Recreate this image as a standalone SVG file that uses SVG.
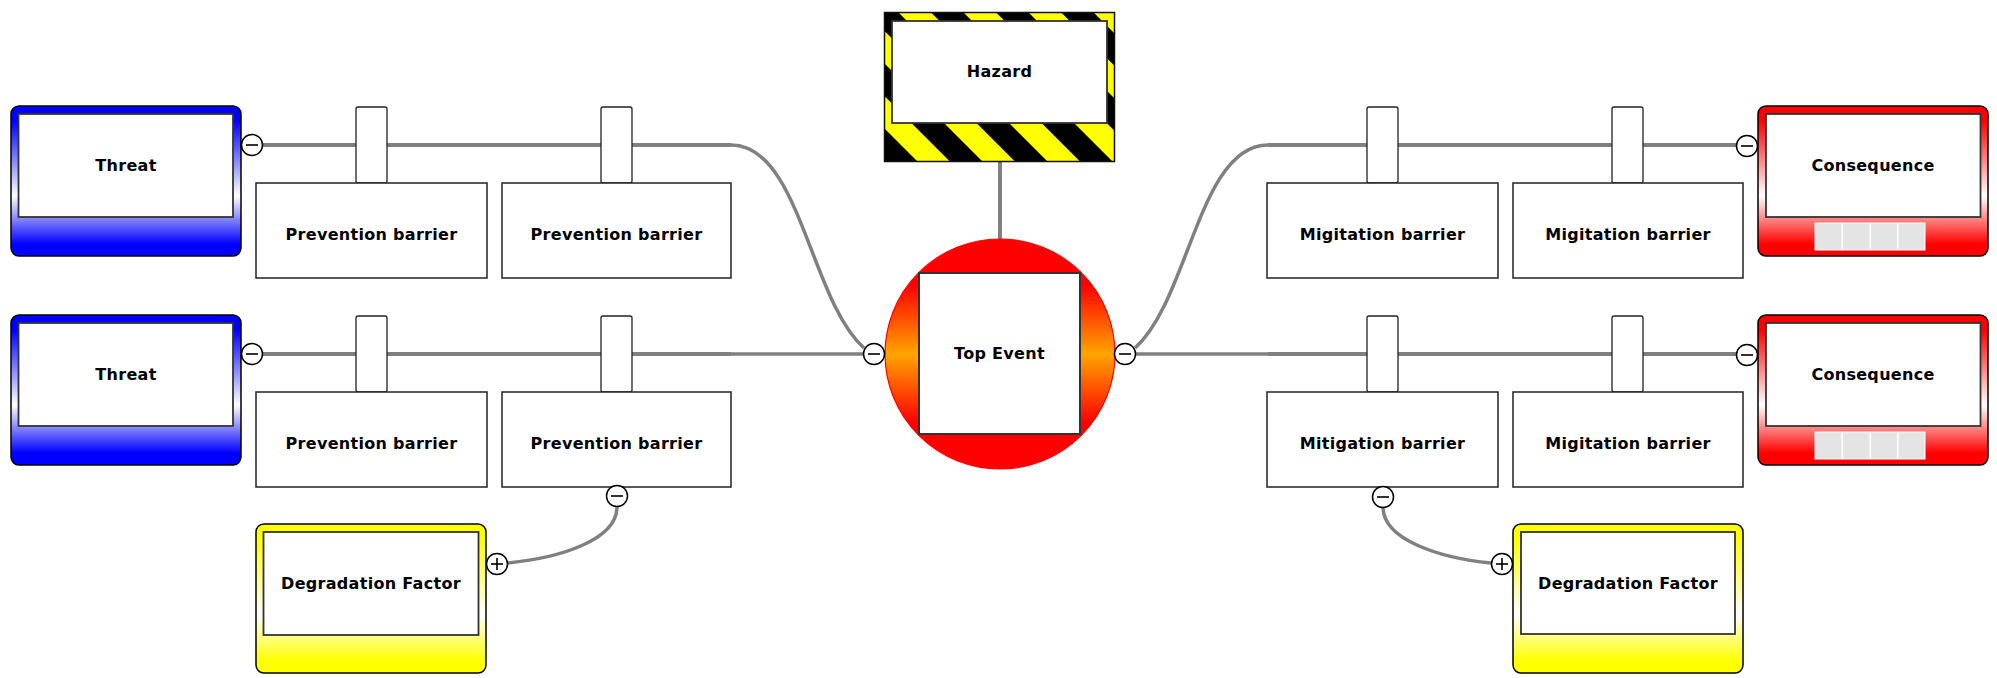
<svg xmlns="http://www.w3.org/2000/svg" xmlns:xlink="http://www.w3.org/1999/xlink" width="1997" height="678" viewBox="0 0 1997 678">
<style>
.lbl{font-family:"DejaVu Sans","Verdana",sans-serif;font-weight:bold;font-size:16px;fill:#000;text-anchor:middle;letter-spacing:0.3px}
.conn{fill:none;stroke:#808080;stroke-width:4}
.connt{fill:none;stroke:#808080;stroke-width:3.5}
.outer{stroke:#000;stroke-width:1.5}
.inner{fill:#fff;stroke:#333;stroke-width:1.8}
.box{fill:#fff;stroke:#222;stroke-width:1.5}
.tab{fill:#fff;stroke:#222;stroke-width:1.3}
.port{fill:#fff;stroke:#000;stroke-width:1.5}
.sign{stroke:#000;stroke-width:1.6;fill:none}
.sq{fill:#e4e4e4;stroke:#fff;stroke-width:1}
</style>
<defs>
<linearGradient id="gBlue" x1="0" y1="0" x2="0" y2="1">
<stop offset="0" stop-color="#0000ff"/><stop offset="0.1" stop-color="#0000ff"/><stop offset="0.6" stop-color="#ffffff"/><stop offset="0.92" stop-color="#0000ff"/><stop offset="1" stop-color="#0000ff"/>
</linearGradient>
<linearGradient id="gRed" x1="0" y1="0" x2="0" y2="1">
<stop offset="0" stop-color="#ff0000"/><stop offset="0.1" stop-color="#ff0000"/><stop offset="0.6" stop-color="#ffffff"/><stop offset="0.92" stop-color="#ff0000"/><stop offset="1" stop-color="#ff0000"/>
</linearGradient>
<linearGradient id="gYel" x1="0" y1="0" x2="0" y2="1">
<stop offset="0" stop-color="#ffff00"/><stop offset="0.1" stop-color="#ffff00"/><stop offset="0.6" stop-color="#ffffff"/><stop offset="0.92" stop-color="#ffff00"/><stop offset="1" stop-color="#ffff00"/>
</linearGradient>
<linearGradient id="gTop" x1="0" y1="0" x2="0" y2="1">
<stop offset="0" stop-color="#ff0000"/><stop offset="0.2" stop-color="#ff0000"/><stop offset="0.5" stop-color="#ffa500"/><stop offset="0.8" stop-color="#ff0000"/><stop offset="1" stop-color="#ff0000"/>
</linearGradient>
<pattern id="stripes" patternUnits="userSpaceOnUse" x="28.5" y="0" width="46" height="46" patternTransform="rotate(-45)">
<rect x="0" y="0" width="46" height="46" fill="#000"/>
<rect x="0" y="0" width="23" height="46" fill="#ffff00"/>
</pattern>
<g id="minus"><circle r="10.5" class="port"/><line x1="-6" y1="0" x2="6" y2="0" class="sign"/></g>
<g id="plus"><circle r="10.5" class="port"/><line x1="-6" y1="0" x2="6" y2="0" class="sign"/><line x1="0" y1="-6" x2="0" y2="6" class="sign"/></g>
</defs>
<rect width="1997" height="678" fill="#fff"/>

<g id="connectors">
<line x1="252" y1="145" x2="731" y2="145" class="conn"/>
<path d="M731,145 C800,145 810,300 864,348" class="connt"/>
<line x1="252" y1="354" x2="731" y2="354" class="conn"/>
<line x1="731" y1="354" x2="874" y2="354" class="connt"/>
<line x1="1268" y1="145" x2="1747" y2="145" class="conn"/>
<path d="M1268,145 C1199,145 1189,300 1135,348" class="connt"/>
<line x1="1268" y1="354" x2="1747" y2="354" class="conn"/>
<line x1="1125" y1="354" x2="1268" y2="354" class="connt"/>
<line x1="1000" y1="162" x2="1000" y2="240" class="conn"/>
<path d="M617,507 C617,540 560,558 507,563" class="connt"/>
<path d="M1383,507 C1383,540 1440,558 1491,563" class="connt"/>
</g>

<g id="hazard">
<rect x="884.5" y="12.5" width="230" height="149" fill="url(#stripes)" stroke="#111" stroke-width="1.5"/>
<rect x="892" y="21" width="215" height="102" class="inner"/>
<text x="999.5" y="77" class="lbl">Hazard</text>
</g>

<g id="top-event">
<circle cx="1000" cy="354" r="115" fill="url(#gTop)" stroke="#ff0000" stroke-width="1.2"/>
<rect x="919" y="273" width="161" height="161" fill="#fff" stroke="#333" stroke-width="2"/>
<text x="999.5" y="359" class="lbl">Top Event</text>
</g>

<g id="threat-1">
<rect x="11" y="106" width="230" height="150" rx="8" fill="url(#gBlue)" class="outer"/>
<rect x="18.5" y="114" width="214.5" height="103" class="inner"/>
<text x="126" y="171" class="lbl">Threat</text>
</g>
<g id="threat-2">
<rect x="11" y="315" width="230" height="150" rx="8" fill="url(#gBlue)" class="outer"/>
<rect x="18.5" y="323" width="214.5" height="103" class="inner"/>
<text x="126" y="380" class="lbl">Threat</text>
</g>

<g id="prevention-1">
<rect x="356" y="107" width="31" height="76" rx="2" class="tab"/>
<rect x="256" y="183" width="231" height="95" class="box"/>
<text x="371.5" y="240" class="lbl">Prevention barrier</text>
</g>
<g id="prevention-2">
<rect x="601" y="107" width="31" height="76" rx="2" class="tab"/>
<rect x="502" y="183" width="229" height="95" class="box"/>
<text x="616.5" y="240" class="lbl">Prevention barrier</text>
</g>
<g id="prevention-3">
<rect x="356" y="316" width="31" height="76" rx="2" class="tab"/>
<rect x="256" y="392" width="231" height="95" class="box"/>
<text x="371.5" y="449" class="lbl">Prevention barrier</text>
</g>
<g id="prevention-4">
<rect x="601" y="316" width="31" height="76" rx="2" class="tab"/>
<rect x="502" y="392" width="229" height="95" class="box"/>
<text x="616.5" y="449" class="lbl">Prevention barrier</text>
</g>

<g id="mitigation-1">
<rect x="1367" y="107" width="31" height="76" rx="2" class="tab"/>
<rect x="1267" y="183" width="231" height="95" class="box"/>
<text x="1382.5" y="240" class="lbl">Migitation barrier</text>
</g>
<g id="mitigation-2">
<rect x="1612" y="107" width="31" height="76" rx="2" class="tab"/>
<rect x="1513" y="183" width="230" height="95" class="box"/>
<text x="1628" y="240" class="lbl">Migitation barrier</text>
</g>
<g id="mitigation-3">
<rect x="1367" y="316" width="31" height="76" rx="2" class="tab"/>
<rect x="1267" y="392" width="231" height="95" class="box"/>
<text x="1382.5" y="449" class="lbl">Mitigation barrier</text>
</g>
<g id="mitigation-4">
<rect x="1612" y="316" width="31" height="76" rx="2" class="tab"/>
<rect x="1513" y="392" width="230" height="95" class="box"/>
<text x="1628" y="449" class="lbl">Migitation barrier</text>
</g>

<g id="consequence-1">
<rect x="1758" y="106" width="230" height="150" rx="8" fill="url(#gRed)" class="outer"/>
<rect x="1766" y="114" width="214.5" height="103" class="inner"/>
<text x="1873" y="171" class="lbl">Consequence</text>
<rect x="1815" y="223" width="27" height="27" class="sq"/>
<rect x="1842.5" y="223" width="27.5" height="27" class="sq"/>
<rect x="1870.5" y="223" width="27" height="27" class="sq"/>
<rect x="1898" y="223" width="27" height="27" class="sq"/>
</g>
<g id="consequence-2">
<rect x="1758" y="315" width="230" height="150" rx="8" fill="url(#gRed)" class="outer"/>
<rect x="1766" y="323" width="214.5" height="103" class="inner"/>
<text x="1873" y="380" class="lbl">Consequence</text>
<rect x="1815" y="432" width="27" height="27" class="sq"/>
<rect x="1842.5" y="432" width="27.5" height="27" class="sq"/>
<rect x="1870.5" y="432" width="27" height="27" class="sq"/>
<rect x="1898" y="432" width="27" height="27" class="sq"/>
</g>

<g id="degradation-1">
<rect x="256" y="524" width="230" height="149" rx="8" fill="url(#gYel)" class="outer"/>
<rect x="263.5" y="532" width="215" height="103" class="inner"/>
<text x="371" y="589" class="lbl">Degradation Factor</text>
</g>
<g id="degradation-2">
<rect x="1513" y="524" width="230" height="149" rx="8" fill="url(#gYel)" class="outer"/>
<rect x="1521" y="532" width="214" height="102" class="inner"/>
<text x="1628" y="589" class="lbl">Degradation Factor</text>
</g>

<g id="ports">
<use xlink:href="#minus" x="252" y="145"/>
<use xlink:href="#minus" x="252" y="354"/>
<use xlink:href="#minus" x="874" y="354"/>
<use xlink:href="#minus" x="1125" y="354"/>
<use xlink:href="#minus" x="1747" y="146"/>
<use xlink:href="#minus" x="1747" y="355"/>
<use xlink:href="#minus" x="617" y="496"/>
<use xlink:href="#minus" x="1383" y="497"/>
<use xlink:href="#plus" x="497" y="564"/>
<use xlink:href="#plus" x="1502" y="564"/>
</g>
</svg>
